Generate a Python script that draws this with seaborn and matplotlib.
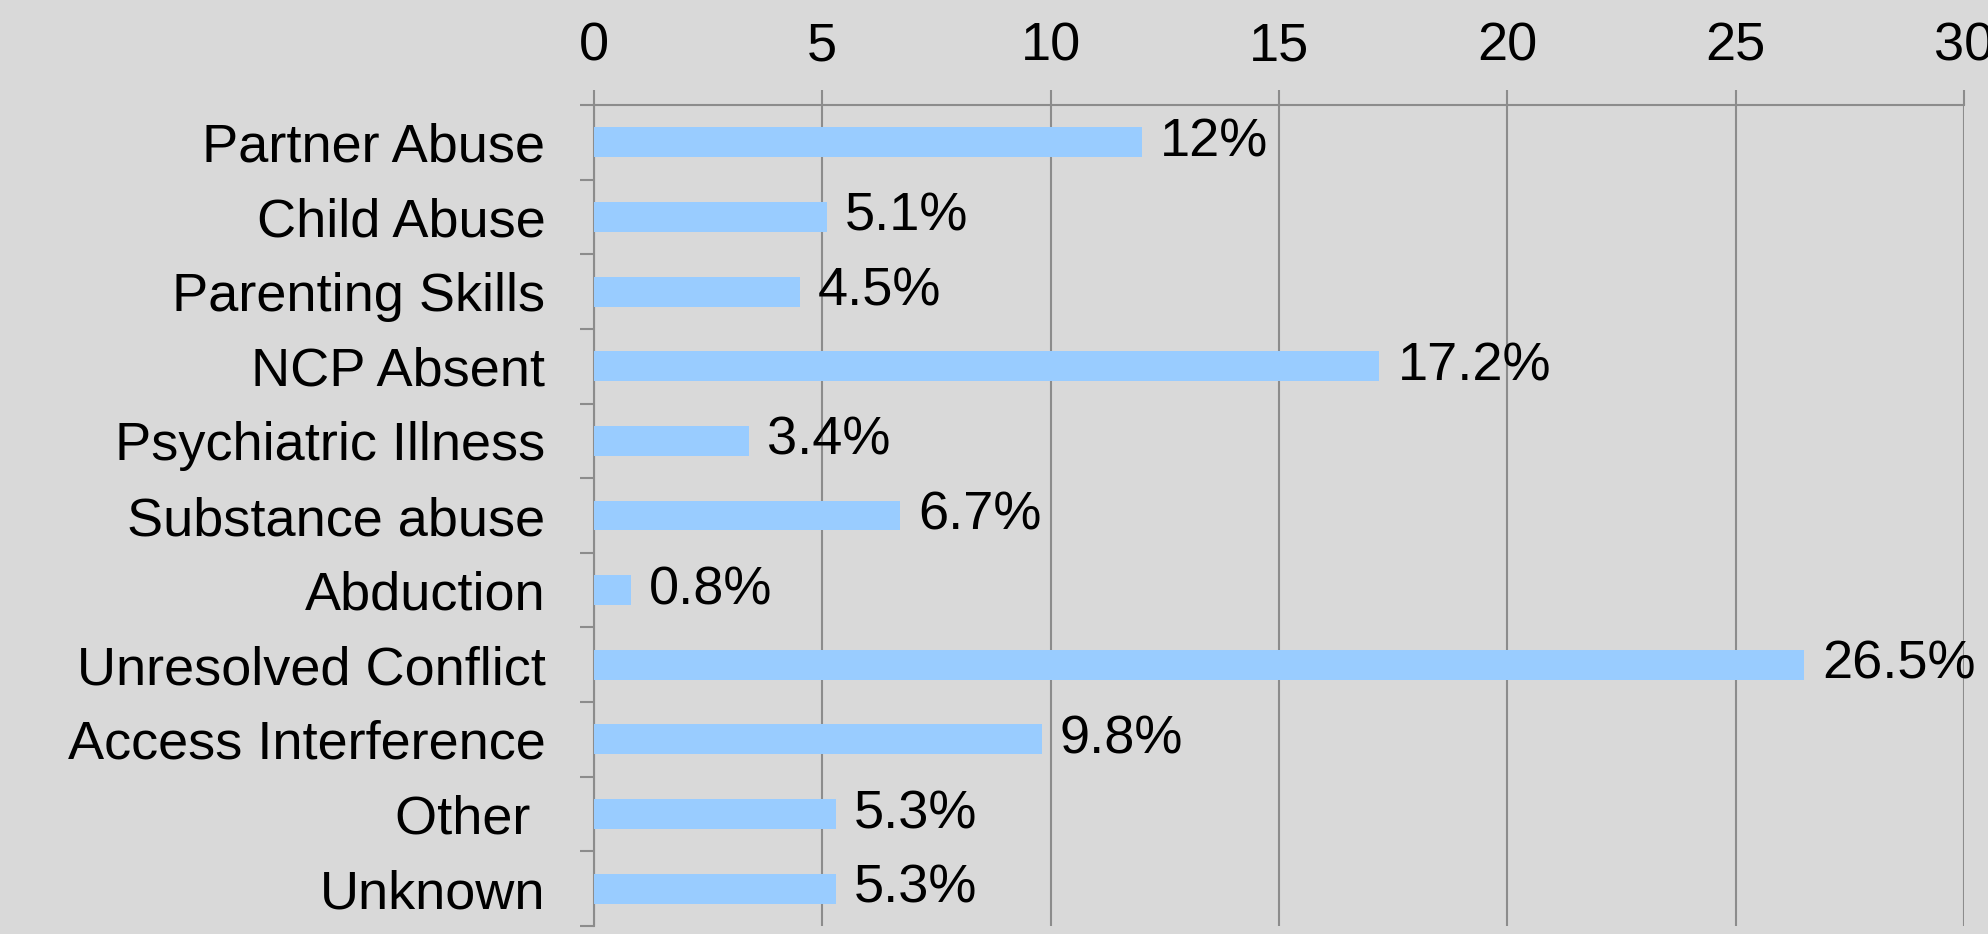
import matplotlib
matplotlib.use("Agg")
import matplotlib.pyplot as plt
import seaborn as sns
import pandas as pd
import numpy as np

categories = ["Partner Abuse", "Child Abuse", "Parenting Skills", "NCP Absent",
              "Psychiatric Illness", "Substance abuse", "Abduction",
              "Unresolved Conflict", "Access Interference", "Other ", "Unknown"]
values = [12, 5.1, 4.5, 17.2, 3.4, 6.7, 0.8, 26.5, 9.8, 5.3, 5.3]
value_labels = ["12%", "5.1%", "4.5%", "17.2%", "3.4%", "6.7%", "0.8%",
                "26.5%", "9.8%", "5.3%", "5.3%"]
x_ticks = [0, 5, 10, 15, 20, 25, 30]

sns.set_style("white")
plt.rcParams['font.family'] = ['Liberation Sans', 'DejaVu Sans']

bg = "#d9d9d9"
grid_c = "#8c8c8c"
fs = 39

df = pd.DataFrame({"cat": categories, "val": values})

fig = plt.figure(figsize=(19.88, 9.34), dpi=100, facecolor=bg)
ax = fig.add_axes([594/1988, 1 - 926/934, (1964-594)/1988, (926-105)/934])
ax.set_facecolor(bg)

sns.barplot(data=df, x="val", y="cat", orient="h", color="#99ccff",
            width=0.4, saturation=1, linewidth=0, edgecolor="none",
            ax=ax, zorder=3)

ax.set_xlim(0, 30)
ax.set_ylim(len(categories) - 0.5, -0.5)
ax.set_xticks(x_ticks)
ax.set_xticklabels([str(t) for t in x_ticks])
ax.xaxis.tick_top()
ax.grid(False)
for t in x_ticks:
    ax.axvline(t, color=grid_c, lw=1.5, zorder=1)

ax.set_xlabel("")
ax.set_ylabel("")

for s in ["right", "bottom"]:
    ax.spines[s].set_visible(False)
for s in ["top", "left"]:
    ax.spines[s].set_color(grid_c)
    ax.spines[s].set_linewidth(1.5)

ax.tick_params(axis="x", which="major", top=True, length=11, width=1.5,
               color=grid_c, pad=13, labelsize=fs, labelcolor="black")
ax.tick_params(axis="y", which="major", length=0, pad=35, labelsize=fs,
               labelcolor="black")
ax.set_yticks(np.arange(-0.5, len(categories) + 0.5, 1), minor=True)
ax.tick_params(axis="y", which="minor", left=True, length=10, width=1.5,
               color=grid_c)

ax.bar_label(ax.containers[0], labels=value_labels, padding=13, fontsize=fs,
             color="black", clip_on=False)

fig.savefig("out.png", dpi=100, facecolor=bg)
